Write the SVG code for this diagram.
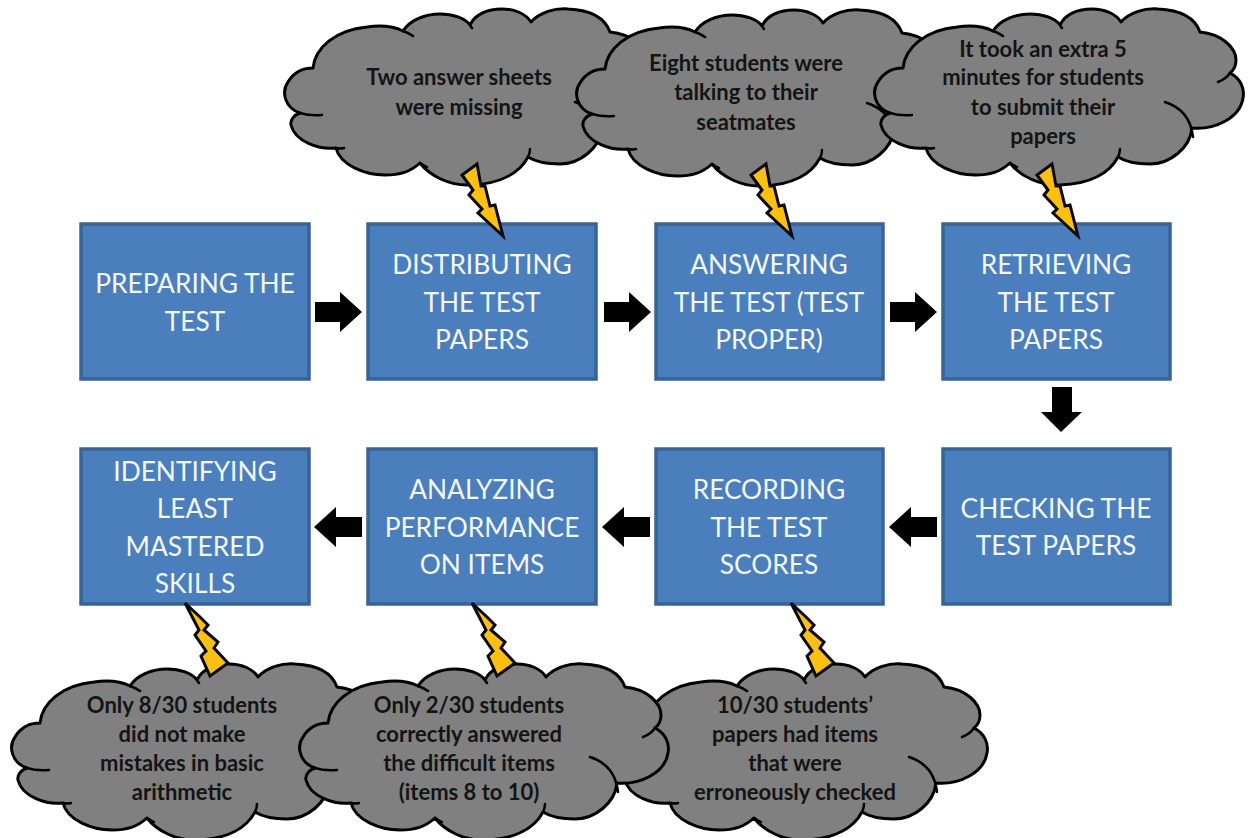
<svg xmlns="http://www.w3.org/2000/svg" width="1248" height="838" viewBox="0 0 1248 838">
<style>
.box{fill:#4a7ebc;stroke:#386395;stroke-width:3.5}
.bt{font-family:Lato,"Liberation Sans",sans-serif;font-size:26.3px;fill:#f4f7fb;text-anchor:middle}
.ct{font-family:Lato,"Liberation Sans",sans-serif;font-size:22px;font-weight:700;fill:#141414;text-anchor:middle}
.cf{fill:#808080;stroke:#000;stroke-width:3;stroke-linejoin:round}
.ci{fill:none;stroke:#000;stroke-width:2.5;stroke-linecap:round}
.ar{fill:#000}
.bolt{fill:#fdbf10;stroke:#0a0a14;stroke-width:3;stroke-linejoin:miter}
</style>
<defs>
<g id="cloud">
<path class="cf" d="M903 68C905 48 925 30 957 27C972 25 985 27 993 31C1000 20 1015 14 1030 14C1043 14 1055 18 1060 25C1065 14 1078 9 1092 9C1105 9 1116 14 1121 22C1130 12 1145 8 1158 9C1180 10 1195 18 1200 32C1222 34 1236 48 1236 60C1236 66 1234 70 1230 73C1240 78 1245 88 1243 98C1240 118 1215 130 1192 128C1190 148 1170 164 1150 164C1138 164 1126 162 1118 157C1110 172 1092 184 1060 185C1040 186 1020 176 1010 163C1000 172 990 175 975 175C955 175 930 165 926 148C910 150 885 142 881 125C880 120 884 115 890 113C875 108 871 92 878 82C884 72 893 68 903 68Z"/>
<path class="ci" d="M993 31Q999 33 1003 36M1060 25Q1061 27 1062 28M1218 82Q1226 79 1230 73M1165 102Q1190 110 1193 137M1120 149Q1120 153 1118 157M1010 163Q1013 165 1017 167M926 148Q930 149 934 148M890 113Q900 116 912 115"/>
</g>
<polygon id="boltTop" class="bolt" points="477,164 462,175 473,190 469,195 482,209 478,213 503,236 495,205 490,206 485,186 481,186"/>
<polygon id="boltBot" class="bolt" points="185,603 200,617 208,625 204,630 218,642 214,648 228,663 210,676 201,656 206,651 195,635 199,630"/>
<polygon id="arR" class="ar" points="315,302 340,302 340,292 362,312 340,332 340,322 315,322"/>
<polygon id="arL" class="ar" points="314,527 336,507 336,517 362,517 362,537 336,537 336,547"/>
</defs>

<g id="cloud-two-sheets"><use href="#cloud" transform="translate(-590,0)"/><text class="ct" x="459" y="85">Two answer sheets</text><text class="ct" x="459" y="115">were missing</text></g>
<g id="cloud-eight-students"><use href="#cloud" transform="translate(-298,1)"/><text class="ct" x="746" y="71">Eight students were</text><text class="ct" x="746" y="100">talking to their</text><text class="ct" x="746" y="130">seatmates</text></g>
<g id="cloud-extra-minutes"><use href="#cloud"/><text class="ct" x="1043" y="57">It took an extra 5</text><text class="ct" x="1043" y="85">minutes for students</text><text class="ct" x="1043" y="115">to submit their</text><text class="ct" x="1043" y="144">papers</text></g>

<g id="cloud-erroneous"><use href="#cloud" transform="translate(-256,655)"/><text class="ct" x="795" y="713">10/30 students’</text><text class="ct" x="795" y="742">papers had items</text><text class="ct" x="795" y="771">that were</text><text class="ct" x="795" y="800">erroneously checked</text></g>
<g id="cloud-basic-arithmetic"><use href="#cloud" transform="translate(-863,655)"/><text class="ct" x="182" y="713">Only 8/30 students</text><text class="ct" x="182" y="742">did not make</text><text class="ct" x="182" y="771">mistakes in basic</text><text class="ct" x="182" y="800">arithmetic</text></g>
<g id="cloud-difficult-items"><use href="#cloud" transform="translate(-575,655)"/><text class="ct" x="469" y="713">Only 2/30 students</text><text class="ct" x="469" y="742">correctly answered</text><text class="ct" x="469" y="771">the difficult items</text><text class="ct" x="469" y="800">(items 8 to 10)</text></g>

<g id="node-preparing"><rect class="box" x="81" y="224" width="228" height="155"/><text class="bt" x="195" y="293">PREPARING THE</text><text class="bt" x="195" y="331">TEST</text></g>
<g id="node-distributing"><rect class="box" x="368" y="224" width="228" height="155"/><text class="bt" x="482" y="274">DISTRIBUTING</text><text class="bt" x="482" y="312">THE TEST</text><text class="bt" x="482" y="349">PAPERS</text></g>
<g id="node-answering"><rect class="box" x="656" y="224" width="227" height="155"/><text class="bt" x="769" y="274">ANSWERING</text><text class="bt" x="769" y="312">THE TEST (TEST</text><text class="bt" x="769" y="349">PROPER)</text></g>
<g id="node-retrieving"><rect class="box" x="943" y="224" width="227" height="155"/><text class="bt" x="1056" y="274">RETRIEVING</text><text class="bt" x="1056" y="312">THE TEST</text><text class="bt" x="1056" y="349">PAPERS</text></g>
<g id="node-checking"><rect class="box" x="943" y="449" width="227" height="155"/><text class="bt" x="1056" y="518">CHECKING THE</text><text class="bt" x="1056" y="555">TEST PAPERS</text></g>
<g id="node-recording"><rect class="box" x="656" y="449" width="227" height="155"/><text class="bt" x="769" y="499">RECORDING</text><text class="bt" x="769" y="537">THE TEST</text><text class="bt" x="769" y="574">SCORES</text></g>
<g id="node-analyzing"><rect class="box" x="368" y="449" width="228" height="155"/><text class="bt" x="482" y="499">ANALYZING</text><text class="bt" x="482" y="537">PERFORMANCE</text><text class="bt" x="482" y="574">ON ITEMS</text></g>
<g id="node-identifying"><rect class="box" x="81" y="449" width="228" height="155"/><text class="bt" x="195" y="481">IDENTIFYING</text><text class="bt" x="195" y="518">LEAST</text><text class="bt" x="195" y="556">MASTERED</text><text class="bt" x="195" y="593">SKILLS</text></g>

<g id="connectors">
<use href="#arR"/><use href="#arR" transform="translate(289,0)"/><use href="#arR" transform="translate(575,0)"/>
<polygon class="ar" points="1052,387 1072,387 1072,412 1082,412 1061,432 1041,412 1052,412"/>
<use href="#arL" transform="translate(575,0)"/><use href="#arL" transform="translate(288,0)"/><use href="#arL"/>
<use href="#boltTop"/><use href="#boltTop" transform="translate(289,0)"/><use href="#boltTop" transform="translate(575,0)"/>
<use href="#boltBot"/><use href="#boltBot" transform="translate(287,0)"/><use href="#boltBot" transform="translate(606,0)"/>
</g>
</svg>
